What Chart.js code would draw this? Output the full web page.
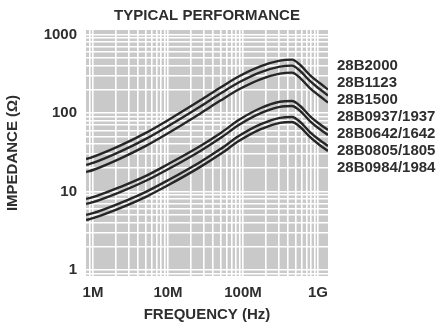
<!DOCTYPE html>
<html>
<head>
<meta charset="utf-8">
<script src="https://cdn.jsdelivr.net/npm/chart.js@4/dist/chart.umd.min.js"></script>
<style>
  html, body { margin: 0; padding: 0; background: #fff; }
  #wrap { width: 442px; height: 322px; }
</style>
</head>
<body>
<div id="wrap"><canvas id="chart" width="442" height="322"></canvas></div>
<script>
const freqHz = [0.81e6, 1e6, 2.3e6, 5e6, 10e6, 27e6, 50e6, 90e6, 170e6, 310e6, 450e6, 580e6, 780e6, 1.05e9, 1.36e9];

// impedance (ohm) per part number
const z2000 = [25.9, 27.6, 38.4, 55.4, 81.0, 145, 211, 296, 393, 465, 479, 409, 305, 241, 199];
const z1123 = [21.8, 23.1, 32.2, 46.5, 67.9, 121, 177, 248, 330, 390, 402, 343, 256, 202, 167];
const z1500 = [17.7, 18.8, 26.3, 37.9, 55.3, 98.8, 144, 202, 269, 318, 327, 279, 208, 165, 136];
const z0937 = [8.03, 8.46, 11.4, 15.7, 22.3, 38.1, 55.4, 82.6, 115, 139, 142, 123, 91.6, 72.4, 60.7];
const z0642 = [6.93, 7.31, 9.83, 13.6, 19.2, 32.9, 47.9, 71.4, 99.1, 120, 123, 106, 79.1, 62.5, 52.4];
const z0805 = [5.02, 5.29, 7.12, 9.83, 13.9, 23.8, 34.7, 51.7, 71.8, 86.6, 88.9, 76.8, 57.3, 45.3, 38.0];
const z0984 = [4.33, 4.57, 6.14, 8.49, 12.0, 20.6, 30.0, 44.6, 62.0, 74.8, 76.8, 66.3, 49.5, 39.1, 32.8];

const seriesNames = ['28B2000', '28B1123', '28B1500', '28B0937/1937', '28B0642/1642', '28B0805/1805', '28B0984/1984'];
const seriesData = [z2000, z1123, z1500, z0937, z0642, z0805, z0984];

const xTickValues = [1e6, 1e7, 1e8, 1e9];
const xTickLabels = ['1M', '10M', '100M', '1G'];
const yTickValues = [1, 10, 100, 1000];
const yTickLabels = ['1', '10', '100', '1000'];

const TEXT = '#2e2e2e';
const FONT = { family: '"Liberation Sans", Arial, Helvetica, sans-serif', size: 15, weight: 'bold' };

// 1,2,...,9 x 10^n inside the axis range -> grid lines like log paper
const logGrid = (min, max) => {
    const out = [];
    for (let e = Math.floor(Math.log10(min)); e <= Math.ceil(Math.log10(max)); e++) {
        for (let k = 1; k <= 9; k++) {
            const v = k * Math.pow(10, e);
            if (v >= min * 0.999 && v <= max * 1.001) out.push({ value: v });
        }
    }
    return out;
};

const labelFor = (vals, labels) => (value) => {
    const i = vals.findIndex(v => Math.abs(v - value) / v < 1e-6);
    return i >= 0 ? labels[i] : '';
};

const paperBg = {
    id: 'paperBg',
    beforeDraw(chart) {
        const { ctx, chartArea: a } = chart;
        ctx.save();
        ctx.fillStyle = '#c9c9c9';
        ctx.fillRect(a.left, a.top, a.right - a.left, a.bottom - a.top);
        ctx.restore();
    }
};

const sideText = {
    id: 'sideText',
    afterDraw(chart) {
        const { ctx, chartArea: a } = chart;
        ctx.save();
        ctx.fillStyle = TEXT;
        ctx.font = `bold ${FONT.size}px ${FONT.family}`;
        ctx.textBaseline = 'middle';
        ctx.textAlign = 'center';
        ctx.fillText('TYPICAL PERFORMANCE', (a.left + a.right) / 2, 16);
        ctx.textAlign = 'left';
        seriesNames.forEach((name, i) => {
            ctx.fillText(name, a.right + 9, 66 + i * 17);
        });
        ctx.restore();
    }
};

new Chart(document.getElementById('chart').getContext('2d'), {
    type: 'line',
    data: {
        datasets: seriesNames.map((name, i) => ({
            label: name,
            data: freqHz.map((f, j) => ({ x: f, y: seriesData[i][j] })),
            borderColor: '#262626',
            borderWidth: 2.4,
            pointRadius: 0,
            fill: false,
            cubicInterpolationMode: 'monotone'
        }))
    },
    options: {
        responsive: false,
        animation: false,
        events: [],
        layout: { padding: { top: 30, right: 114, left: 0, bottom: 0 } },
        plugins: { legend: { display: false }, title: { display: false }, tooltip: { enabled: false } },
        scales: {
            x: {
                type: 'logarithmic',
                min: 0.807e6,
                max: 1.36e9,
                afterBuildTicks: s => { s.ticks = logGrid(s.min, s.max); },
                afterFit: s => { s.height = 46; },
                grid: { color: '#ffffff', lineWidth: 1.6, drawTicks: false },
                border: { display: false },
                ticks: {
                    autoSkip: false, maxRotation: 0, padding: 8,
                    color: TEXT, font: FONT,
                    callback: labelFor(xTickValues, xTickLabels)
                },
                title: {
                    display: true, text: 'FREQUENCY (Hz)', color: TEXT,
                    font: { ...FONT, lineHeight: 1 }, padding: { top: 0, bottom: 0 }
                }
            },
            y: {
                type: 'logarithmic',
                min: 0.839,
                max: 1142,
                afterBuildTicks: s => { s.ticks = logGrid(s.min, s.max); },
                afterFit: s => { s.width = 86; },
                grid: { color: '#ffffff', lineWidth: 1.6, drawTicks: false },
                border: { display: false },
                ticks: {
                    autoSkip: false, padding: 9,
                    color: TEXT, font: FONT,
                    callback: labelFor(yTickValues, yTickLabels)
                },
                title: {
                    display: true, text: 'IMPEDANCE (Ω)', color: TEXT,
                    font: { ...FONT, lineHeight: 1.2 }, padding: { top: 4, bottom: 0 }
                }
            }
        }
    },
    plugins: [paperBg, sideText]
});
</script>
</body>
</html>
